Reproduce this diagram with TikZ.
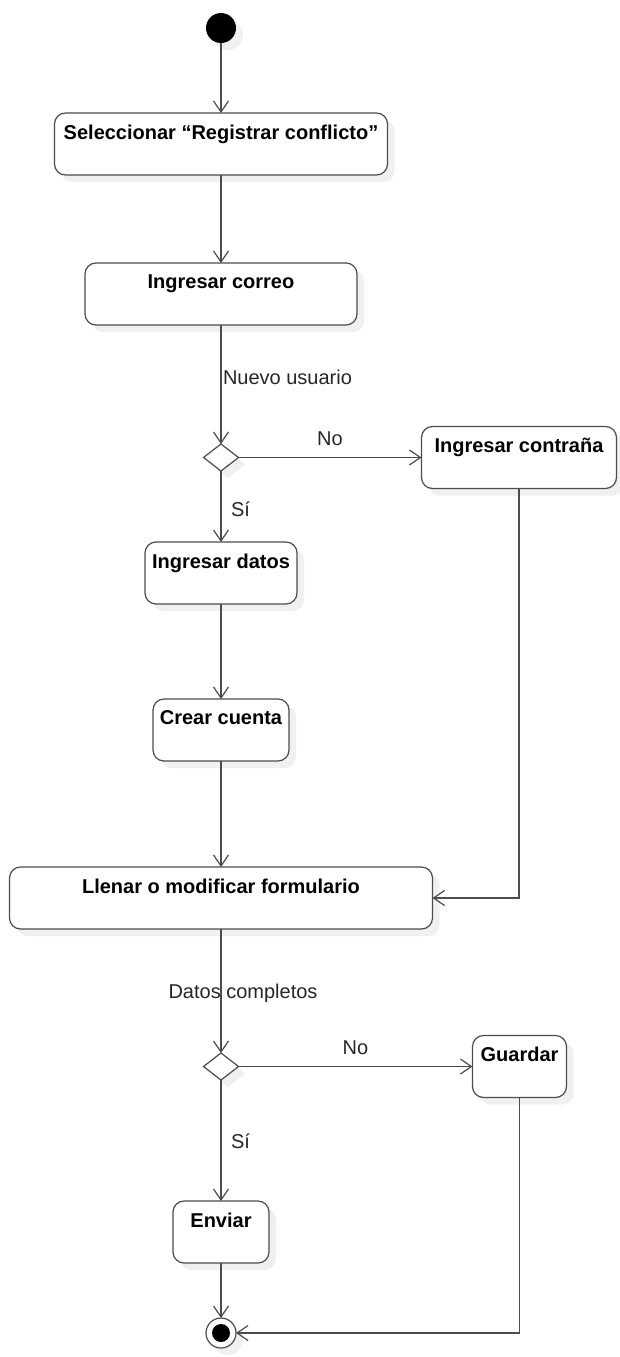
\documentclass[tikz,border=0pt]{standalone}
\usepackage{fontspec}
\setmainfont{Liberation Sans}
\usetikzlibrary{shapes.geometric,arrows.meta,positioning,shadows}

\begin{document}
\begin{tikzpicture}[
        x=1pt, y=-1pt,
        >={Straight Barb[length=11pt,width=15pt]},
        every node/.style={font=\fontsize{20}{24}\selectfont, outer sep=0pt},
        shade/.style={drop shadow={shadow xshift=7pt, shadow yshift=-7pt, fill=black!6, opacity=1}},
        act/.style={draw=black!70, line width=1.2pt, rounded corners=11pt, fill=white,
                    minimum height=62pt, align=center, shade,
                    font=\fontsize{20}{24}\selectfont\bfseries},
        decision/.style={diamond, draw=black!70, line width=1.2pt, fill=white,
                    minimum width=35pt, minimum height=27pt, inner sep=0pt, shade},
        inicio/.style={circle, fill=black, minimum size=30pt, inner sep=0pt, shade},
        fin/.style={circle, draw=black!70, line width=1.2pt, fill=white, minimum size=30pt,
                    inner sep=0pt, shade,
                    path picture={\fill[black] (path picture bounding box.center) circle (9pt);}},
        flow/.style={draw=black!70, line width=1.2pt, ->},
        lbl/.style={inner sep=2pt, text=black!85}
        ]
        \useasboundingbox (0,0) rectangle (619,1357);

        % Activities
        \node (start)      [inicio] at (221,28) {};
        \node (sel)        [act, minimum width=333pt, below=70pt of start]  {Seleccionar “Registrar conflicto”\\~};
        \node (correo)     [act, minimum width=272pt, below=88pt of sel]    {Ingresar correo\\~};
        \node (dec1)       [decision, below=119pt of correo]                {};
        \node (contrasena) [act, minimum width=195pt, right=183pt of dec1]  {Ingresar contraña\\~};
        \node (datos)      [act, minimum width=152pt, below=71pt of dec1]   {Ingresar datos\\~};
        \node (cuenta)     [act, minimum width=136pt, below=95pt of datos]  {Crear cuenta\\~};
        \node (llenar)     [act, minimum width=423pt, below=106pt of cuenta] {Llenar o modificar formulario\\~};
        \node (dec2)       [decision, below=124pt of llenar]                {};
        \node (guardar)    [act, minimum width=94pt, right=234pt of dec2]   {Guardar\\~};
        \node (enviar)     [act, minimum width=96pt, below=121pt of dec2]   {Enviar\\~};
        \node (end)        [fin, below=55pt of enviar]                      {};

        % Flows
        \draw[flow] (start) -- (sel);
        \draw[flow] (sel) -- (correo);
        \draw[flow] (correo) -- node[lbl, pos=0.44, anchor=west] {Nuevo usuario} (dec1);
        \draw[flow] (dec1) -- node[lbl, midway, above=10pt] {No} (contrasena);
        \draw[flow] (dec1) -- node[lbl, pos=0.54, right=8pt] {Sí} (datos);
        \draw[flow] (datos) -- (cuenta);
        \draw[flow] (cuenta) -- (llenar);
        \draw[flow] (contrasena.south) |- (llenar.east);
        \draw[flow] (llenar) -- node[lbl, pos=0.52, xshift=22pt] {Datos completos} (dec2);
        \draw[flow] (dec2) -- node[lbl, midway, above=10pt] {No} (guardar);
        \draw[flow] (dec2) -- node[lbl, pos=0.51, right=8pt] {Sí} (enviar);
        \draw[flow] (enviar) -- (end);
        \draw[flow] (guardar.south) |- (end.east);
\end{tikzpicture}
\end{document}
